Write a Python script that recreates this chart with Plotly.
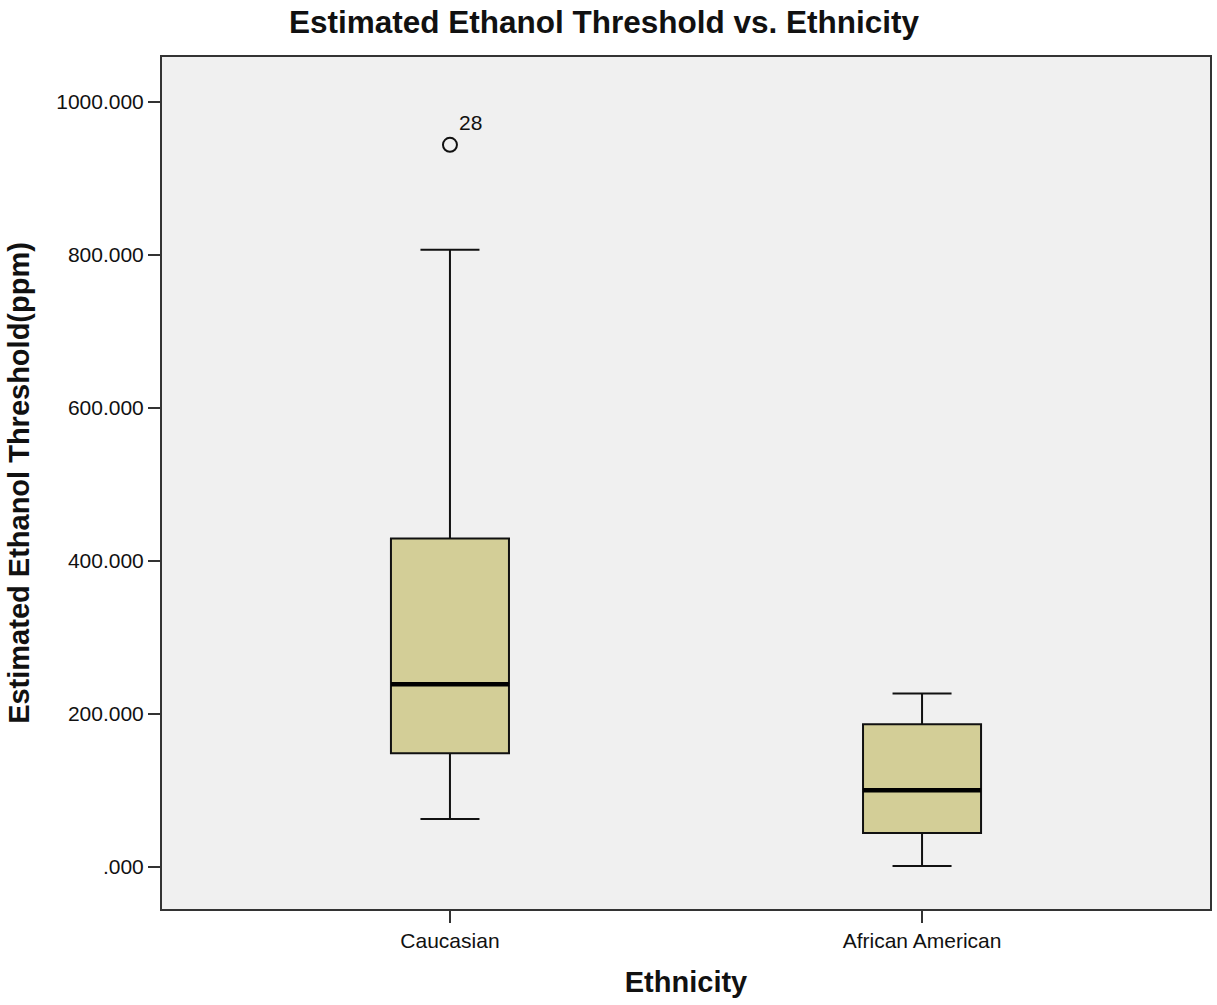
import plotly.graph_objects as go

categories = ["Caucasian", "African American"]
q1 = [148.8, 44.4]
median = [238.9, 100.5]
q3 = [429.5, 186.7]
lower_whisker = [62.7, 1.3]
upper_whisker = [806.8, 227.0]
outlier_cat = ["Caucasian"]
outlier_val = [943.9]
outlier_label = ["28"]
ytick_vals = [0, 200, 400, 600, 800, 1000]
ytick_text = [".000", "200.000", "400.000", "600.000", "800.000", "1000.000"]

BOX_W = 0.25
FONT = "Liberation Sans, Arial, sans-serif"

fig = go.Figure()
fig.add_trace(go.Box(
    x=categories, q1=q1, median=median, q3=q3,
    lowerfence=lower_whisker, upperfence=upper_whisker,
    width=BOX_W, whiskerwidth=0.5,
    fillcolor="#D3CE97", line=dict(color="#111111", width=2),
    boxpoints=False, showlegend=False, hoverinfo="skip",
))
# thicker median lines
for i, m in enumerate(median):
    fig.add_shape(type="line", xref="x", yref="y",
                  x0=i - BOX_W / 2, x1=i + BOX_W / 2, y0=m, y1=m,
                  line=dict(color="black", width=4.5))
fig.add_trace(go.Scatter(
    x=outlier_cat, y=outlier_val, mode="markers",
    marker=dict(symbol="circle-open", size=14, color="#111", line=dict(width=2)),
    showlegend=False, hoverinfo="skip", cliponaxis=False,
))
for c, v, t in zip(outlier_cat, outlier_val, outlier_label):
    fig.add_annotation(x=c, y=v, text=t, showarrow=False,
                       xanchor="left", yanchor="bottom", xshift=7, yshift=9,
                       font=dict(family=FONT, size=21, color="#111"))

fig.update_layout(
    width=1217, height=1005,
    margin=dict(l=162, r=5, t=57, b=96),
    paper_bgcolor="white", plot_bgcolor="#F0F0F0",
    title=dict(text="<b>Estimated Ethanol Threshold vs. Ethnicity</b>",
               x=604 / 1217, xanchor="center", y=1 - 22 / 1005, yanchor="middle",
               font=dict(family=FONT, size=31.5, color="#111")),
    font=dict(family=FONT, size=21, color="#111"),
)
fig.update_xaxes(
    type="category", range=[-0.61, 1.61], showgrid=False,
    showline=True, linecolor="#333", linewidth=2, mirror=True,
    ticks="outside", ticklen=12, tickcolor="#333", tickwidth=2,
    title=dict(text="<b>Ethnicity</b>", font=dict(family=FONT, size=29, color="#111"), standoff=20),
    tickfont=dict(family=FONT, size=21, color="#111"),
)
fig.update_yaxes(
    range=[-54.8, 1058.7], showgrid=False, zeroline=False,
    showline=True, linecolor="#333", linewidth=2, mirror=True,
    ticks="outside", ticklen=12, tickcolor="#333", tickwidth=2,
    tickvals=ytick_vals, ticktext=ytick_text,
    title=dict(text="<b>Estimated Ethanol Threshold(ppm)</b>", font=dict(family=FONT, size=29, color="#111"), standoff=18),
    tickfont=dict(family=FONT, size=21, color="#111"),
)

fig.write_html("out.html")
